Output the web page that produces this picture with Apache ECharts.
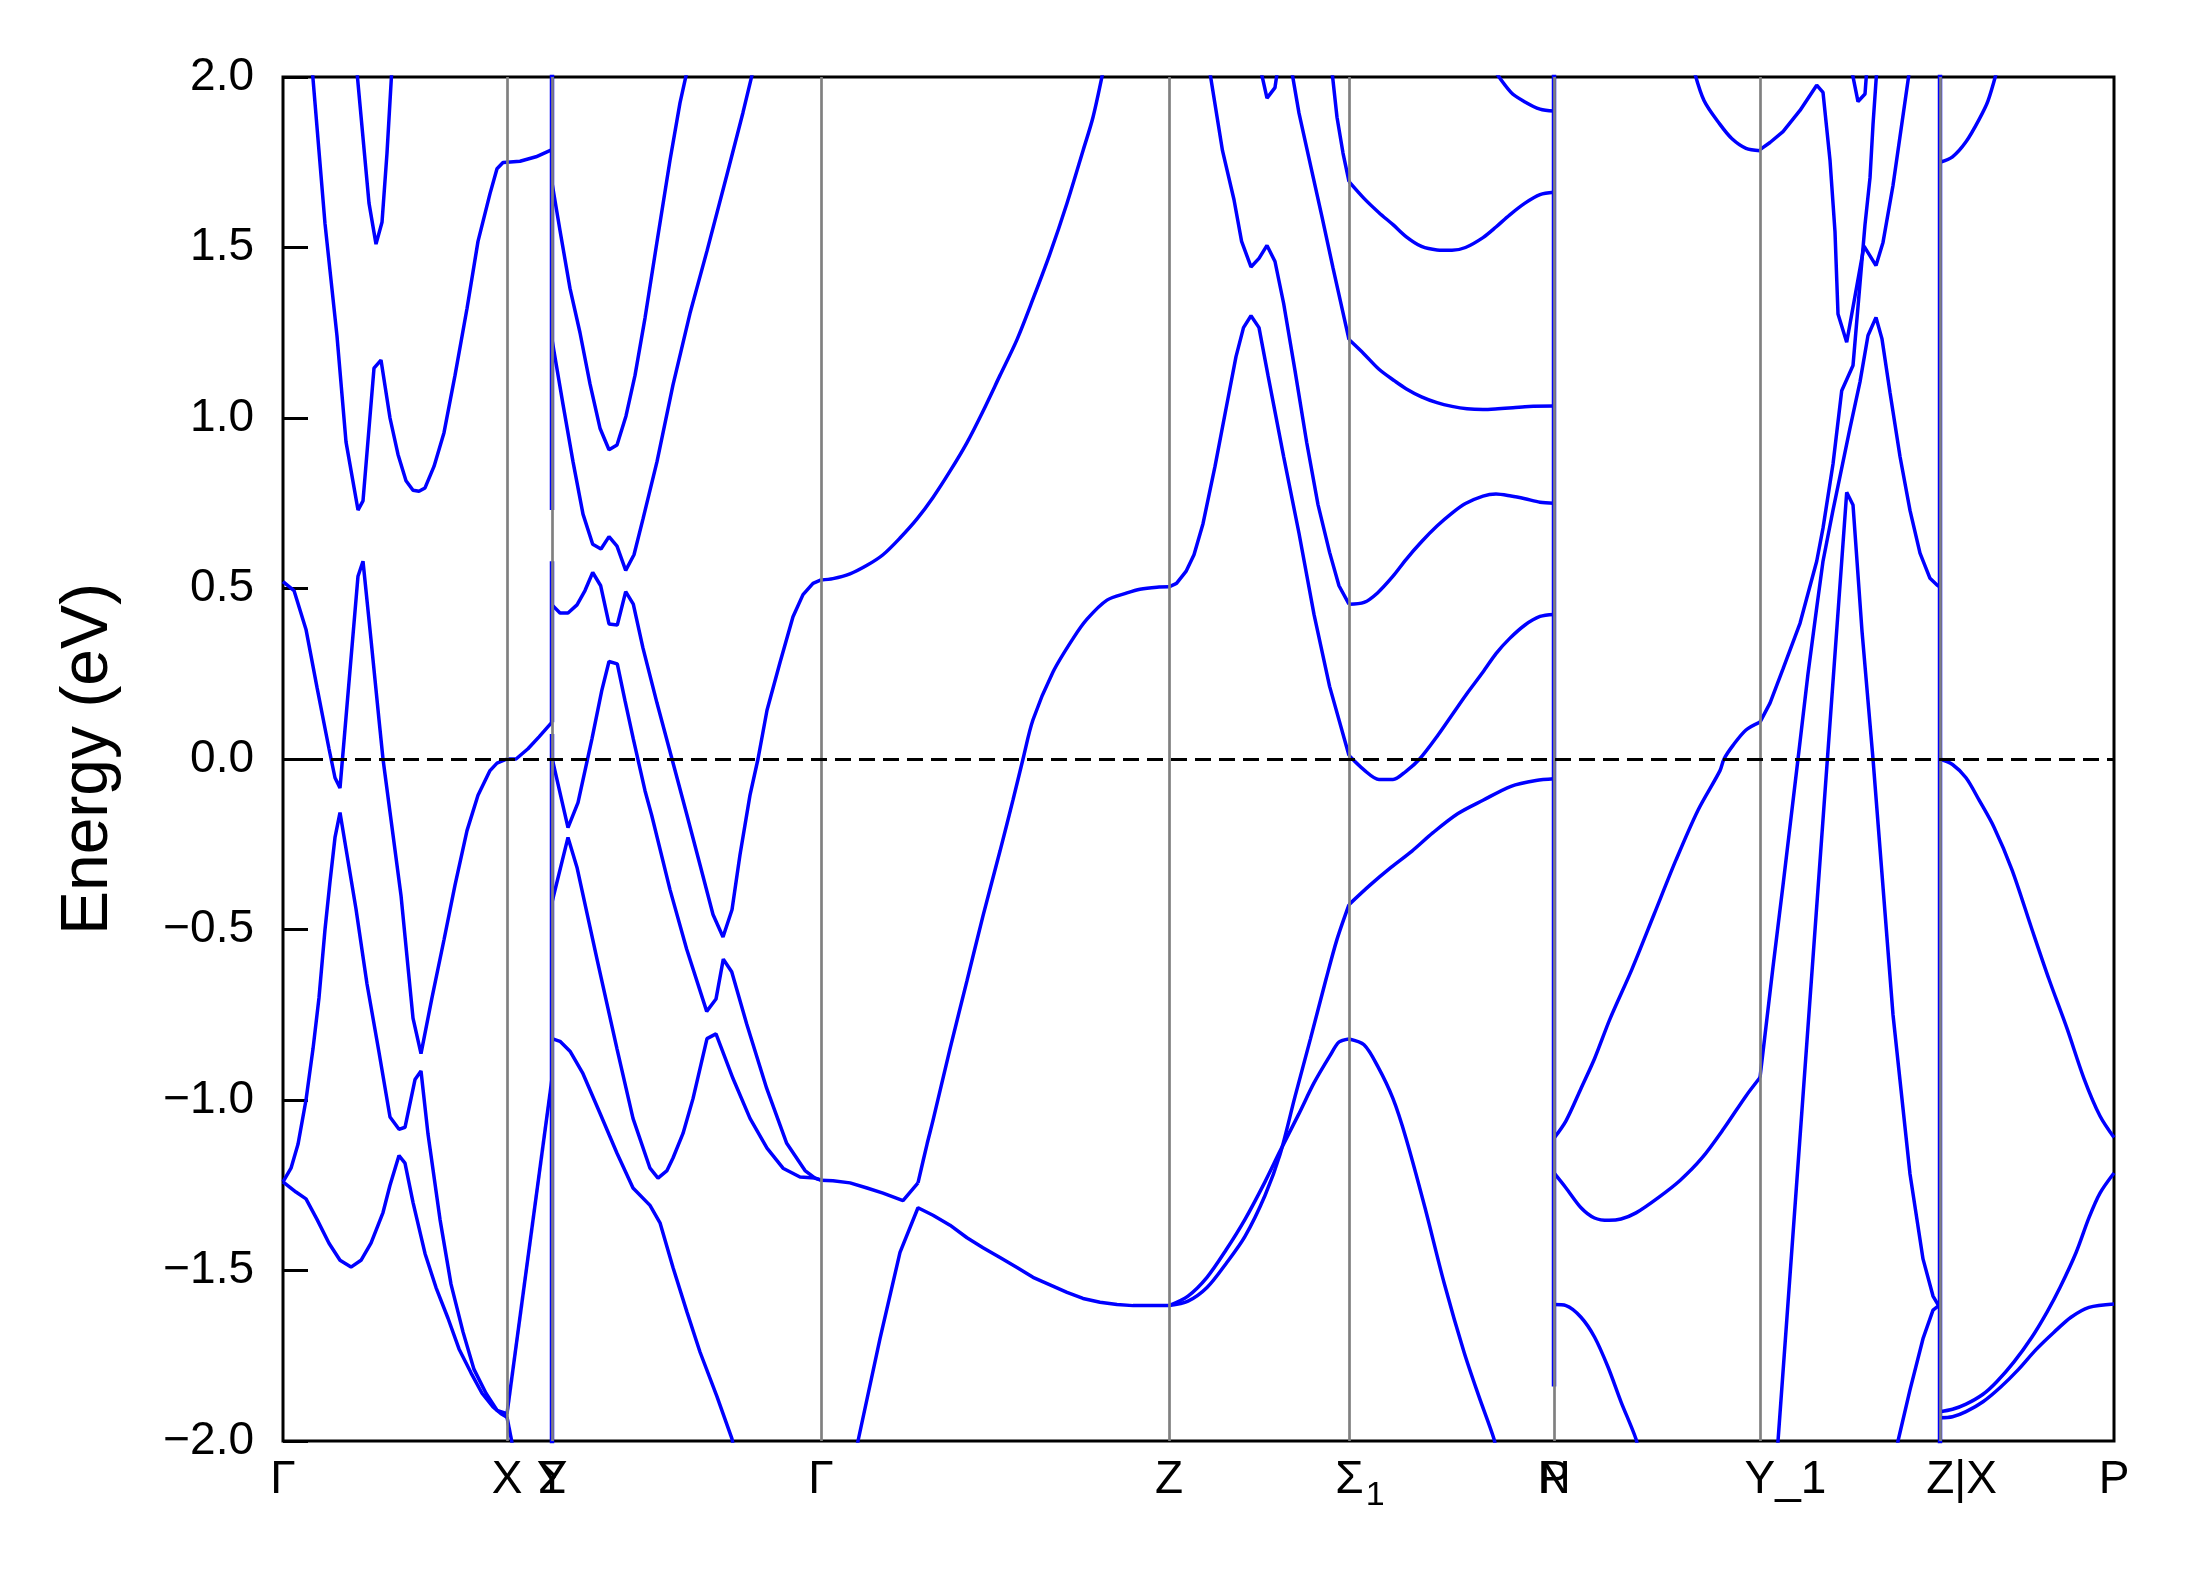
<!DOCTYPE html>
<html>
<head>
<meta charset="utf-8">
<script src="https://cdn.jsdelivr.net/npm/echarts@6/dist/echarts.min.js"></script>
<style>
html,body{margin:0;padding:0;background:#ffffff;}
#chart{width:2189px;height:1573px;}
</style>
</head>
<body>
<div id="chart"></div>
<script>
// ---- high-symmetry points (k = distance along path) ----
const kTicks = [0, 224, 269, 538, 886, 1066, 1271, 1477, 1657, 1831];
const kLabels = ['Γ', 'X', 'Y', 'Γ', 'Z', 'Σ1', 'P', 'Y_1', 'Z|X', 'P'];
const kTicks2 = [269, 1271];
const kLabels2 = ['Σ', 'N'];
const symLines = [224, 269, 538, 886, 1066, 1271, 1477, 1657];
const yTicks = { min: -2, max: 2, step: 0.5 };

// ---- path discontinuities: [k, E from, E to] ----
const breaks = [[269, 2.03, 0.73], [269, 0.58, 0.108], [269, 0.073, -2.03], [1271, 2.03, -1.84], [1657, 2.03, -2.03]];

// ---- bands: Γ – X – Y ----
const g1 = [[0,-1.24],[13,-1.27],[23,-1.29],[34,-1.35],[46,-1.42],[57,-1.47],[68,-1.49],[78,-1.47],[88,-1.42],[100,-1.33],[107,-1.25],[116,-1.163],[122,-1.185],[130,-1.30],[142,-1.45],[153,-1.55],[165,-1.64],[176,-1.73],[188,-1.80],[199,-1.86],[210,-1.90],[218,-1.92],[224,-1.93]];
const g2 = [[0,-1.24],[8,-1.20],[15,-1.13],[23,-1.0],[30,-0.85],[36,-0.70],[42,-0.50],[47,-0.36],[52,-0.23],[57,-0.157],[73,-0.44],[84,-0.66],[96,-0.86],[107,-1.05],[116,-1.086],[122,-1.08],[132,-0.94],[138,-0.915],[145,-1.10],[157,-1.35],[168,-1.54],[180,-1.68],[191,-1.79],[203,-1.86],[214,-1.91],[224,-1.92]];
const g4 = [[0,0.52],[11,0.494],[23,0.38],[34,0.21],[46,0.03],[52,-0.055],[57,-0.085],[75,0.536],[80,0.58],[88,0.35],[96,0.115],[100,0.0],[118,-0.40],[130,-0.76],[138,-0.864],[149,-0.70],[161,-0.53],[172,-0.37],[184,-0.21],[195,-0.106],[207,-0.034],[214,-0.012],[224,0.0],[233,0.0],[245,0.03],[256,0.065],[269,0.108]];
const g5 = [[29,2.03],[42,1.57],[54,1.24],[63,0.93],[75,0.73],[80,0.757],[91,1.146],[98,1.17],[107,1.0],[115,0.893],[123,0.816],[130,0.788],[136,0.785],[142,0.795],[151,0.858],[161,0.957],[172,1.125],[184,1.321],[195,1.518],[207,1.658],[214,1.731],[220,1.749],[224,1.75],[237,1.753],[253,1.766],[269,1.787]];
const g6 = [[73.5,2.03],[86,1.63],[93,1.51],[99,1.574],[104,1.777],[109,2.03]];
const xy1 = [[224,-1.92],[269,-0.937]];
const xy2 = [[224,-1.93],[232,-2.05]];

// ---- bands: Σ – Γ ----
const s1 = [[269,1.69],[277,1.55],[287,1.38],[297,1.25],[307,1.10],[317,0.97],[326,0.907],[334,0.921],[343,1.006],[352,1.125],[362,1.293],[374,1.517],[387,1.756],[397,1.924],[405,2.03]];
const s2 = [[269,1.23],[280,1.04],[290,0.872],[300,0.718],[309.7,0.63],[318,0.616],[326,0.652],[334,0.624],[342.7,0.553],[351,0.599],[360,0.704],[374,0.872],[390,1.097],[407,1.307],[424,1.49],[444,1.714],[460,1.896],[471,2.03]];
const s3 = [[269,0.452],[277,0.428],[285,0.428],[294,0.452],[302,0.494],[309.7,0.547],[317.7,0.508],[326,0.396],[334.3,0.393],[342.7,0.491],[350.3,0.454],[360,0.325],[374,0.164],[389,0.0],[404,-0.165],[417,-0.31],[430,-0.456],[440,-0.522],[449,-0.442],[457,-0.281],[467,-0.106],[475,0.0],[484,0.143],[497,0.283],[510,0.417],[520,0.482],[530,0.515],[538,0.525]];
const s4 = [[269,0.003],[285,-0.201],[295,-0.128],[309,0.06],[318.7,0.20],[326,0.286],[334.3,0.279],[342,0.171],[350.3,0.059],[362,-0.093],[368.7,-0.165],[387,-0.383],[403.7,-0.558],[423.7,-0.74],[433,-0.704],[440.3,-0.587],[448.7,-0.624],[463.7,-0.777],[483.7,-0.966],[503.7,-1.127],[522,-1.207],[532,-1.229],[538,-1.235]];
const s5 = [[269,-0.42],[285,-0.23],[294,-0.318],[314,-0.587],[334,-0.85],[350,-1.054],[367,-1.20],[375,-1.229],[384,-1.207],[390,-1.17],[400,-1.098],[410,-0.996],[424,-0.82],[433,-0.806],[450,-0.937],[467,-1.054],[484,-1.141],[500,-1.20],[517,-1.226],[532,-1.229],[538,-1.235]];
const s6 = [[269,-0.82],[277,-0.828],[287,-0.857],[300,-0.923],[317,-1.039],[334,-1.156],[350,-1.258],[367,-1.309],[377,-1.36],[390,-1.491],[404,-1.622],[417,-1.739],[434,-1.87],[449,-1.994],[452,-2.04]];

// ---- bands: Γ – Z ----
const c1 = [[538,0.525],[550,0.529],[567,0.543],[584,0.568],[600,0.599],[617,0.648],[634,0.704],[650,0.767],[667,0.844],[684,0.928],[700,1.02],[717,1.125],[734,1.23],[750,1.349],[767,1.482],[784,1.63],[800,1.784],[810,1.882],[821,2.03]];
const c2 = [[570,-2.08],[575,-2.0],[597,-1.70],[617,-1.447],[635,-1.316],[650,-1.338],[667,-1.367],[684,-1.404],[700,-1.433],[717,-1.462],[734,-1.491],[750,-1.52],[767,-1.542],[784,-1.564],[800,-1.582],[817,-1.593],[834,-1.60],[850,-1.603],[867,-1.603],[886,-1.603]];
const c3a = [[538,-1.235],[550,-1.237],[567,-1.243],[584,-1.258],[600,-1.273],[620,-1.295],[635,-1.243]];
const c3b = [[635,-1.243],[644,-1.13],[650,-1.06],[667,-0.85],[684,-0.65],[700,-0.46],[717,-0.27],[730,-0.12],[740,0.0],[750,0.115],[770,0.255],[790,0.353],[804,0.41],[824,0.466],[844,0.487],[857,0.498],[874,0.504],[886,0.505]];

// ---- bands: Z – Σ1 ----
const z1 = [[886,0.505],[893.5,0.515],[903,0.55],[911,0.599],[920,0.69],[932,0.858],[943,1.027],[953,1.18],[960.5,1.265],[968,1.30],[976,1.265],[985,1.125],[1000.7,0.886],[1016,0.662],[1031,0.424],[1046.6,0.213],[1066,0.01]];
const z2 = [[926,2.03],[939.5,1.784],[951,1.64],[958.6,1.518],[968,1.443],[976,1.468],[984,1.506],[992,1.459],[1000.7,1.335],[1012,1.139],[1023.7,0.928],[1035,0.746],[1046.6,0.606],[1056,0.508],[1066,0.454]];
const z3 = [[977,2.03],[984,1.938],[992,1.969],[995,2.03]];
const z4 = [[1008,2.03],[1016,1.894],[1027,1.748],[1039,1.59],[1050,1.44],[1066,1.23]];
const z5 = [[1048.5,2.03],[1054,1.882],[1060,1.777],[1066,1.693]];
const zA = [[886,-1.603],[905,-1.59],[924,-1.55],[943,-1.48],[962,-1.40],[982,-1.28],[997,-1.16],[1012,-0.99],[1027.5,-0.82],[1043,-0.646],[1054,-0.529],[1066,-0.427]];
const zB = [[886,-1.603],[905,-1.575],[924,-1.52],[943,-1.44],[962,-1.35],[982,-1.24],[997,-1.15],[1016,-1.04],[1031,-0.95],[1047,-0.87],[1056,-0.83],[1066,-0.821]];

// ---- bands: Σ1 – N ----
const n1 = [[1209,2.03],[1228,1.955],[1242,1.927],[1257,1.906],[1271,1.90]];
const n2 = [[1066,1.693],[1081,1.644],[1096,1.602],[1110,1.567],[1123,1.532],[1138.5,1.503],[1154,1.493],[1169,1.492],[1182.5,1.50],[1200,1.529],[1213,1.56],[1226.5,1.595],[1242,1.63],[1257,1.655],[1271,1.662]];
const n3 = [[1066,1.23],[1081,1.188],[1096,1.143],[1112,1.108],[1123,1.086],[1138.5,1.062],[1154,1.045],[1169,1.034],[1184,1.027],[1200,1.025],[1215,1.027],[1230,1.03],[1246,1.034],[1271,1.035]];
const n4 = [[1066,0.454],[1081,0.459],[1094.5,0.487],[1110,0.536],[1123,0.585],[1138.5,0.637],[1154,0.683],[1169,0.721],[1182.5,0.749],[1200,0.771],[1213,0.777],[1228,0.771],[1242,0.763],[1257,0.753],[1271,0.75]];
const n5 = [[1066,0.01],[1081,-0.032],[1096,-0.06],[1110,-0.06],[1123,-0.036],[1136.6,0.0],[1154,0.066],[1169,0.129],[1184,0.192],[1200,0.255],[1213,0.309],[1226.5,0.353],[1242,0.393],[1257,0.418],[1271,0.424]];
const n6 = [[1066,-0.427],[1087,-0.37],[1108,-0.318],[1129,-0.27],[1150,-0.216],[1175,-0.16],[1200,-0.121],[1228,-0.08],[1253,-0.063],[1271,-0.058]];
const n7 = [[1066,-0.821],[1081,-0.838],[1094.5,-0.90],[1110,-0.996],[1123,-1.112],[1142,-1.316],[1161,-1.535],[1181,-1.739],[1196,-1.87],[1211,-1.994],[1213,-2.03]];

// ---- bands: P – Y_1 ----
const p1 = [[1410,2.03],[1421,1.931],[1437,1.861],[1449,1.819],[1463,1.791],[1477,1.784]];
const p2 = [[1271,-1.112],[1283,-1.061],[1298,-0.966],[1311.5,-0.879],[1327,-0.762],[1349,-0.616],[1371,-0.456],[1393,-0.296],[1415,-0.15],[1437,-0.034],[1441,0.0],[1450,0.04],[1463,0.085],[1477,0.108]];
const p3 = [[1271,-1.214],[1283,-1.258],[1298,-1.316],[1311.5,-1.346],[1326,-1.353],[1338,-1.349],[1353,-1.331],[1375,-1.287],[1397,-1.236],[1419,-1.17],[1441,-1.083],[1463,-0.988],[1477,-0.934]];
const p4 = [[1271,-1.60],[1283,-1.603],[1298,-1.637],[1311.5,-1.695],[1325,-1.783],[1338,-1.885],[1353,-1.994],[1355,-2.03]];

// ---- bands: Y_1 – Z ----
const y1 = [[1477,1.787],[1487,1.808],[1500,1.84],[1517,1.902],[1533.7,1.976],[1540,1.955],[1547,1.756],[1552,1.546],[1555,1.305],[1563.7,1.222],[1581,1.504],[1593,1.447],[1600,1.515],[1610,1.682],[1627,2.03]];
const y2 = [[1477,0.108],[1487,0.164],[1500,0.264],[1517,0.398],[1533.7,0.58],[1540,0.677],[1550,0.865],[1558.7,1.08],[1570,1.154],[1582,1.567],[1587,1.704],[1590,1.86],[1594,2.03]];
const y3 = [[1477,-0.934],[1490,-0.61],[1500,-0.37],[1515,0.0],[1525,0.25],[1534,0.45],[1540,0.58],[1550,0.73],[1567,0.97],[1577,1.106],[1585,1.242],[1593,1.295],[1599,1.232],[1607,1.075],[1617,0.887],[1627,0.729],[1637,0.604],[1647,0.53],[1654,0.51],[1657,0.504]];
const y4 = [[1493,-2.08],[1495,-2.0],[1563.7,0.782],[1570,0.745],[1579,0.375],[1590,0.0],[1610,-0.75],[1627,-1.217],[1640,-1.466],[1650,-1.575],[1655,-1.6],[1657,-1.603]];
const y5 = [[1612,-2.06],[1615,-2.0],[1627,-1.85],[1640,-1.70],[1650,-1.616],[1657,-1.60]];
const y6 = [[1568,2.03],[1575,1.928],[1582,1.95],[1584,2.03]];

// ---- bands: X – P ----
const q1 = [[1657,1.75],[1669.5,1.766],[1683,1.81],[1696,1.875],[1705,1.93],[1715,2.03]];
const q2 = [[1657,0.0],[1669.5,-0.016],[1683,-0.055],[1696,-0.12],[1711,-0.20],[1729,-0.325],[1749,-0.50],[1766,-0.646],[1784,-0.79],[1801,-0.937],[1817,-1.047],[1831,-1.11]];
const q3 = [[1657,-1.914],[1669.5,-1.907],[1683,-1.892],[1700,-1.863],[1713.5,-1.827],[1731,-1.768],[1749,-1.695],[1764,-1.622],[1777,-1.55],[1793,-1.448],[1806,-1.345],[1817,-1.273],[1831,-1.214]];
const q4 = [[1657,-1.932],[1669.5,-1.929],[1683,-1.914],[1700,-1.885],[1718,-1.841],[1735.5,-1.79],[1753,-1.732],[1771,-1.681],[1788,-1.637],[1806,-1.608],[1831,-1.598]];

const bands = [g1,g2,g4,g5,g6,xy1,xy2,s1,s2,s3,s4,s5,s6,c1,c2,c3a,c3b,z1,z2,z3,z4,z5,zA,zB,n1,n2,n3,n4,n5,n6,n7,p1,p2,p3,p4,y1,y2,y3,y4,y5,y6,q1,q2,q3,q4];
// bands without sharp kinks are drawn as smooth curves
const smoothBands = [c1,c3b,zA,zB,n1,n2,n3,n4,n5,n6,n7,p1,p2,p3,p4,q1,q2,q3,q4];

// ---- chart ----
const FONT = "'Liberation Sans', Arial, Helvetica, sans-serif";
const BLUE = '#0000ff';

function labelFor(v, ticks, labels) {
  let best = 0, bd = Infinity;
  ticks.forEach((t, i) => { const d = Math.abs(t - v); if (d < bd) { bd = d; best = i; } });
  const s = labels[best];
  if (s === 'Σ1') return '{sps| }{sig|Σ}{sub|1}';
  if (s === 'Y_1') return '{sp1| }Y_1';
  if (s === 'Z|X') return '{sp2| }Z|X';
  return s;
}
const richStyles = {
  sps: { width: 22, fontSize: 46 },
  sp1: { width: 51, fontSize: 46 },
  sp2: { width: 43, fontSize: 46 },
  sig: { fontSize: 46, lineHeight: 46, verticalAlign: 'top', color: '#000', fontFamily: FONT },
  sub: { fontSize: 34, lineHeight: 34, verticalAlign: 'top', padding: [22, 0, 0, 2], color: '#000', fontFamily: FONT }
};

const series = [];
series.push({
  type: 'line', data: [], z: 1, silent: true, animation: false,
  markLine: {
    silent: true, animation: false, symbol: ['none', 'none'], label: { show: false },
    data: symLines.map(k => ({ xAxis: k, lineStyle: { color: '#808080', width: 2.7, type: 'solid' } }))
      .concat([{ yAxis: 0, lineStyle: { color: '#000000', width: 2.8, type: [16, 8] } }])
  }
});
bands.forEach(b => series.push({
  type: 'line', data: b, xAxisIndex: 0, yAxisIndex: 0, showSymbol: false, symbol: 'none',
  smooth: smoothBands.includes(b) ? 0.3 : false,
  lineStyle: { color: BLUE, width: 3.5 }, z: 3, silent: true, animation: false, clip: true
}));
breaks.forEach(br => series.push({
  type: 'line', data: [[br[0], br[1]], [br[0], br[2]]], showSymbol: false, symbol: 'none',
  lineStyle: { color: BLUE, width: 4.5 }, z: 4, silent: true, animation: false, clip: true
}));

const xCommon = {
  type: 'value', min: kTicks[0], max: kTicks[kTicks.length - 1], position: 'bottom',
  axisLine: { show: false }, axisTick: { show: false }, splitLine: { show: false }
};

const option = {
  backgroundColor: '#ffffff',
  animation: false,
  grid: { left: 283, right: 75, top: 77, bottom: 132, show: true, borderColor: '#000', borderWidth: 3, backgroundColor: 'transparent', containLabel: false },
  xAxis: [
    Object.assign({}, xCommon, {
      axisLabel: { customValues: kTicks, fontSize: 46, fontFamily: FONT, color: '#000', margin: 16,
        formatter: v => labelFor(v, kTicks, kLabels), rich: richStyles }
    }),
    Object.assign({}, xCommon, {
      axisLabel: { customValues: kTicks2, fontSize: 46, fontFamily: FONT, color: '#000', margin: 16,
        formatter: v => labelFor(v, kTicks2, kLabels2), rich: richStyles }
    })
  ],
  yAxis: {
    type: 'value', min: yTicks.min, max: yTicks.max, interval: yTicks.step,
    name: 'Energy (eV)', nameLocation: 'middle', nameGap: 161,
    nameTextStyle: { fontSize: 66, fontFamily: FONT, color: '#000' },
    axisLine: { show: false },
    axisTick: { show: true, inside: true, length: 25, lineStyle: { color: '#000', width: 3 } },
    axisLabel: { fontSize: 46, fontFamily: FONT, color: '#000', margin: 29,
      formatter: v => (v < 0 ? '\u2212' : '') + Math.abs(v).toFixed(1) },
    splitLine: { show: false }
  },
  series: series
};

const chart = echarts.init(document.getElementById('chart'), null, { renderer: 'canvas', width: 2189, height: 1573 });
chart.setOption(option);
</script>
</body>
</html>
